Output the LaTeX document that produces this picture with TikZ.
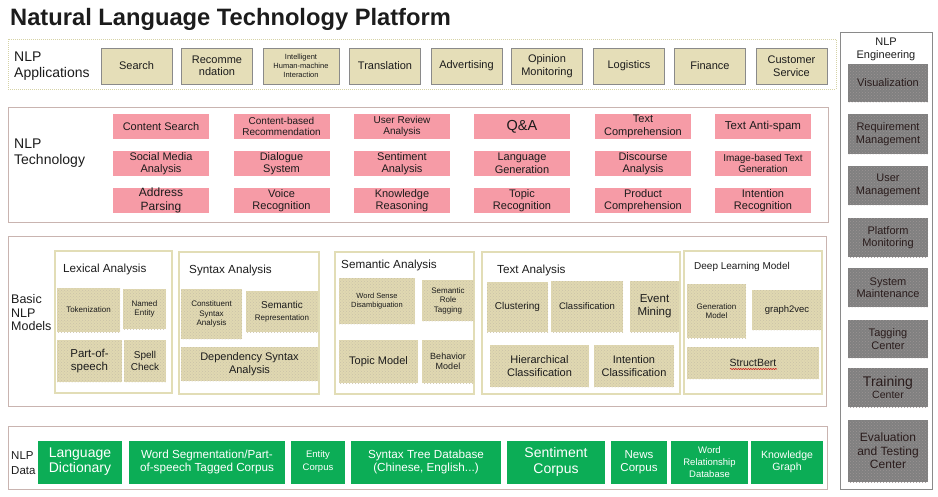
\documentclass[tikz,border=0pt]{standalone}
\usepackage{fontspec}
\setmainfont{Liberation Sans}
\usetikzlibrary{patterns,decorations.pathmorphing}
\definecolor{appfill}{HTML}{E5DEB8}
\definecolor{appline}{HTML}{8A8A8A}
\definecolor{appdots}{HTML}{D6D3A6}
\definecolor{techpink}{HTML}{F69BA6}
\definecolor{framepink}{HTML}{C9B4B0}
\definecolor{subline}{HTML}{E2DDB6}
\definecolor{modfill}{HTML}{E0D8B1}
\definecolor{moddot}{HTML}{C9C1A8}
\definecolor{enggray}{HTML}{808080}
\definecolor{engdot}{HTML}{9C9494}
\definecolor{engink}{HTML}{2A1C1C}
\definecolor{datagreen}{HTML}{0CAD56}
\definecolor{inkdark}{HTML}{1C1C1C}
\newcommand{\fz}[2]{\fontsize{#1}{#2}\selectfont}

\begin{document}
\begin{tikzpicture}[x=1pt,y=-1pt,
  every node/.style={inner sep=0pt, align=center, text=inkdark},
  appbox/.style={draw=appline, line width=1pt, fill=appfill,
    minimum width=71pt, minimum height=36pt, font=\fz{11}{12.5}},
  techbox/.style={fill=techpink, minimum width=96pt, minimum height=25pt},
  outerframe/.style={draw=framepink, line width=1pt},
  subframe/.style={draw=subline, line width=1.2pt},
  modbox/.style={fill=modfill, postaction={pattern=crosshatch dots, pattern color=moddot}},
  engbox/.style={fill=enggray, minimum width=80pt, text=engink,
    postaction={pattern=crosshatch dots, pattern color=engdot}},
  databox/.style={fill=datagreen, text=white, minimum height=43pt},
  sidelabel/.style={anchor=west, align=left},
  subtitle/.style={anchor=base west, font=\fz{11.7}{13}}
]
\useasboundingbox (0,0) rectangle (938,496);

\node[anchor=base west, font=\bfseries\fz{23.7}{26}] (title) at (10,25)
  {Natural Language Technology Platform};

% Applications row
\draw[appdots, densely dotted, line width=1pt] (8,39) rectangle (836,89);
\node[sidelabel, font=\fz{14}{15.5}] (applbl) at (14,66) {NLP\\Applications};
\node[appbox] (search)  at (136.5,66) {Search};
\node[appbox] (recom)   at (217,66)   {Recomme\\ndation};
\node[appbox, minimum width=76pt, font=\fz{7.5}{9}] (hmi) at (301,66)
  {Intelligent\\Human-machine\\Interaction};
\node[appbox] (transl)  at (385,66)   {Translation};
\node[appbox] (advert)  at (466.5,66) {Advertising};
\node[appbox] (opinion) at (547,66)   {Opinion\\Monitoring};
\node[appbox] (logist)  at (629,66)   {Logistics};
\node[appbox] (finance) at (710,66)   {Finance};
\node[appbox] (custsvc) at (791.5,66) {Customer\\Service};

% Technology block
\draw[outerframe] (8,107) rectangle (828,222);
\node[sidelabel, font=\fz{14}{15.5}] (techlbl) at (14,153) {NLP\\Technology};
\node[techbox, font=\fz{11}{12.5}] (csearch) at (161,126.5)   {Content Search};
\node[techbox, font=\fz{10}{11.5}] (cbrec)   at (281.5,126.5) {Content-based\\Recommendation};
\node[techbox, font=\fz{10}{11.5}] (review)  at (402,126.5)   {User Review\\Analysis};
\node[techbox, font=\fz{14.5}{16}] (qa)      at (522,126.5)   {Q\&A};
\node[techbox, font=\fz{11}{12.5}] (textcmp) at (643,126.5)   {Text\\Comprehension};
\node[techbox, font=\fz{11.5}{13}] (spam)    at (763,126.5)   {Text Anti-spam};

\node[techbox, font=\fz{11}{12.5}] (social)  at (161,163.5)   {Social Media\\Analysis};
\node[techbox, font=\fz{11}{12.5}] (dialog)  at (281.5,163.5) {Dialogue\\System};
\node[techbox, font=\fz{11}{12.5}] (sentim)  at (402,163.5)   {Sentiment\\Analysis};
\node[techbox, font=\fz{11}{12.5}] (langgen) at (522,163.5)   {Language\\Generation};
\node[techbox, font=\fz{11}{12.5}] (discour) at (643,163.5)   {Discourse\\Analysis};
\node[techbox, font=\fz{10}{11.5}] (imggen)  at (763,163.5)   {Image-based Text\\Generation};

\node[techbox, font=\fz{12}{13.5}] (address) at (161,200.5)   {Address\\Parsing};
\node[techbox, font=\fz{11}{12.5}] (voice)   at (281.5,200.5) {Voice\\Recognition};
\node[techbox, font=\fz{11}{12.5}] (reason)  at (402,200.5)   {Knowledge\\Reasoning};
\node[techbox, font=\fz{11}{12.5}] (topicrec) at (522,200.5)  {Topic\\Recognition};
\node[techbox, font=\fz{11}{12.5}] (prodcmp) at (643,200.5)   {Product\\Comprehension};
\node[techbox, font=\fz{11}{12.5}] (intrec)  at (763,200.5)   {Intention\\Recognition};

% Basic models block
\draw[outerframe] (8,236) rectangle (826,406);
\node[sidelabel, font=\fz{12.5}{13.5}] (modlbl) at (11,313) {Basic\\NLP\\Models};
\draw[subframe] (55,251) rectangle (172,393);
\draw[subframe] (179,252) rectangle (319,394);
\draw[subframe] (335,252) rectangle (474,394);
\draw[subframe] (482,252) rectangle (680,394);
\draw[subframe] (684,251) rectangle (822,394);
\node[subtitle] (lexttl) at (63,272)  {Lexical Analysis};
\node[subtitle] (synttl) at (189,273) {Syntax Analysis};
\node[subtitle] (semttl) at (341,268) {Semantic Analysis};
\node[subtitle] (txtttl) at (497,273) {Text Analysis};
\node[subtitle, font=\fz{10}{11}] (dlttl) at (694,269) {Deep Learning Model};

\node[modbox, minimum width=63pt, minimum height=44pt, font=\fz{8}{9.5}] (token) at (88.5,310) {Tokenization};
\node[modbox, minimum width=43pt, minimum height=40pt, font=\fz{8}{9.5}] (named) at (144.5,309) {Named\\Entity};
\node[modbox, minimum width=65pt, minimum height=42pt, font=\fz{11.5}{13}] (pos) at (89.5,361) {Part-of-\\speech};
\node[modbox, minimum width=42pt, minimum height=42pt, font=\fz{10}{11.5}] (spell) at (145,361) {Spell\\Check};

\node[modbox, minimum width=61pt, minimum height=50pt, font=\fz{8}{9.5}] (constit) at (211.5,314) {Constituent\\Syntax\\Analysis};
\node[modbox, minimum width=72pt, minimum height=41pt] (semrep) at (282,311.5)
  {{\fz{10}{12}Semantic}\\{\fz{8}{10}Representation}};
\node[modbox, minimum width=137pt, minimum height=34pt, font=\fz{11}{12.5}] (depsyn) at (249.5,364) {Dependency Syntax\\Analysis};

\node[modbox, minimum width=76pt, minimum height=46pt, font=\fz{7.5}{9}] (wsd) at (377,301) {Word Sense\\Disambiguation};
\node[modbox, minimum width=52pt, minimum height=41pt, font=\fz{8}{9.5}] (srl) at (448,300.5) {Semantic\\Role\\Tagging};
\node[modbox, minimum width=79pt, minimum height=43pt, font=\fz{11}{12.5}] (topicmod) at (378.5,361.5) {Topic Model};
\node[modbox, minimum width=52pt, minimum height=43pt, font=\fz{9}{10.5}] (behav) at (448,361.5) {Behavior\\Model};

\node[modbox, minimum width=61pt, minimum height=50pt, font=\fz{10}{11.5}] (cluster) at (517.5,307) {Clustering};
\node[modbox, minimum width=72pt, minimum height=51pt, font=\fz{9.5}{11}] (classif) at (587,306.5) {Classification};
\node[modbox, minimum width=49pt, minimum height=51pt, font=\fz{11.5}{13}] (eventmin) at (654.5,306.5) {Event\\Mining};
\node[modbox, minimum width=99pt, minimum height=42pt, font=\fz{11}{12.5}] (hiercls) at (539.5,366) {Hierarchical\\Classification};
\node[modbox, minimum width=80pt, minimum height=42pt, font=\fz{11}{12.5}] (intentcls) at (634,366) {Intention\\Classification};

\node[modbox, minimum width=59pt, minimum height=54pt, font=\fz{8}{9.5}] (genmod) at (716.5,311) {Generation\\Model};
\node[modbox, minimum width=70pt, minimum height=40pt, font=\fz{9.5}{11}] (g2v) at (787,310) {graph2vec};
\node[modbox, minimum width=132pt, minimum height=32pt, font=\fz{10.5}{12}] (sbert) at (753,363) {StructBert};
\draw[red!80!black, line width=0.5pt, decorate,
  decoration={snake, amplitude=0.6pt, segment length=2.5pt}] (730,369) -- (777,369);

% Data block
\draw[outerframe] (8,426) rectangle (827,489);
\node[sidelabel, font=\fz{11.5}{15}] (datalbl) at (11,463) {NLP\\Data};
\node[databox, minimum width=84pt,  font=\fz{14}{15}]    (langdict) at (80,462)    {Language\\Dictionary};
\node[databox, minimum width=156pt, font=\fz{11.7}{13.5}] (wordseg) at (207,462)   {Word Segmentation/Part-\\of-speech Tagged Corpus};
\node[databox, minimum width=54pt,  font=\fz{9.5}{13}]   (entcorp)  at (318,462)   {Entity\\Corpus};
\node[databox, minimum width=150pt, font=\fz{11.7}{13.5}] (syntree) at (426,462)   {Syntax Tree Database\\(Chinese, English...)};
\node[databox, minimum width=98pt,  font=\fz{14}{15.5}]  (sentcorp) at (556,462)   {Sentiment\\Corpus};
\node[databox, minimum width=56pt,  font=\fz{11.5}{13}]  (newscorp) at (639,462)   {News\\Corpus};
\node[databox, minimum width=77pt,  font=\fz{9.5}{11.8}] (wordrel)  at (709.5,462) {Word\\Relationship\\Database};
\node[databox, minimum width=72pt,  font=\fz{10.5}{12.5}] (kgraph)  at (787,462)   {Knowledge\\Graph};

% Engineering column
\draw[appline, line width=1pt] (840,32) rectangle (932,489);
\node[font=\fz{11}{12.5}] (englbl) at (886,49.5) {NLP\\Engineering};
\node[engbox, minimum height=38pt, font=\fz{11}{12.5}] (visual)  at (888,83)    {Visualization};
\node[engbox, minimum height=40pt, font=\fz{11}{12.5}] (reqmgmt) at (888,134)   {Requirement\\Management};
\node[engbox, minimum height=39pt, font=\fz{11}{12.5}] (usrmgmt) at (888,185.5) {User\\Management};
\node[engbox, minimum height=39pt, font=\fz{11}{12.5}] (platmon) at (888,237.5) {Platform\\Monitoring};
\node[engbox, minimum height=39pt, font=\fz{11}{12.5}] (sysmnt)  at (888,287.5) {System\\Maintenance};
\node[engbox, minimum height=38pt, font=\fz{11}{12.5}] (tagctr)  at (888,339)   {Tagging\\Center};
\node[engbox, minimum height=39pt] (trainctr) at (888,387.5)
  {{\fz{14}{15}Training}\\{\fz{10.5}{12.5}Center}};
\node[engbox, minimum height=62pt, font=\fz{12}{13.5}] (evalctr) at (888,451) {Evaluation\\and Testing\\Center};
\end{tikzpicture}
\end{document}
